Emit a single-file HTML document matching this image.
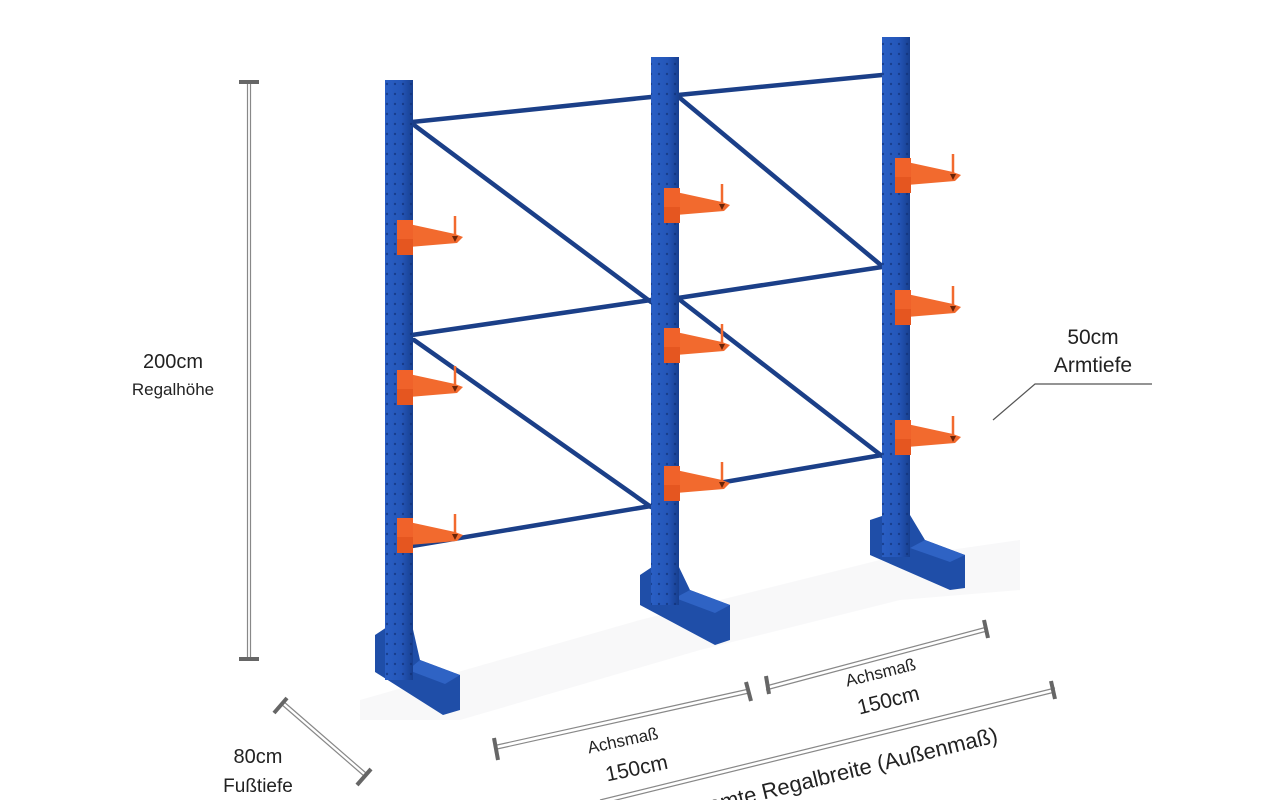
<!DOCTYPE html>
<html><head><meta charset="utf-8"><style>
html,body{margin:0;padding:0;background:#fff;}
svg{display:block}
text{font-family:"Liberation Sans",sans-serif;fill:#222;}
</style></head><body>
<svg width="1286" height="800" viewBox="0 0 1286 800" xmlns="http://www.w3.org/2000/svg">
<defs>
<linearGradient id="col" x1="0" x2="1">
<stop offset="0" stop-color="#2a5fc4"/><stop offset="0.6" stop-color="#2456b8"/><stop offset="1" stop-color="#173f8f"/>
</linearGradient>
<pattern id="holes" width="8" height="10" patternUnits="userSpaceOnUse">
<circle cx="3" cy="4" r="1.2" fill="#0f2c6e"/>
</pattern>
<g id="arm">
<polygon points="4,4 50,14 58,17 52,23 4,27" fill="#f26a2e"/>
<polygon points="47,16 53,16 50,22" fill="#6a2408"/>
<line x1="50" y1="-4" x2="50" y2="16" stroke="#f26a2e" stroke-width="2.5"/>
<rect x="-8" y="0" width="16" height="35" fill="#f0622a"/>
<rect x="-8" y="19" width="16" height="16" fill="#e55620"/>
</g>
</defs>

<polygon points="360,700 640,620 880,560 1020,540 1020,590 900,600 700,650 460,720 360,720" fill="#f5f5f7" opacity="0.7"/>

<g stroke="#1b3f88" stroke-width="4.5" stroke-linecap="round">
<line x1="412" y1="122" x2="651" y2="97"/>
<line x1="678" y1="95" x2="882" y2="75"/>
<line x1="412" y1="335" x2="651" y2="300"/>
<line x1="678" y1="298" x2="882" y2="267"/>
<line x1="412" y1="546" x2="651" y2="506"/>
<line x1="678" y1="490" x2="882" y2="455"/>
<line x1="414" y1="125" x2="651" y2="302"/>
<line x1="414" y1="340" x2="651" y2="507"/>
<line x1="680" y1="98" x2="882" y2="266"/>
<line x1="680" y1="300" x2="882" y2="456"/>
</g>

<polygon points="870,520 885,515 910,515 925,540 965,555 965,588 950,590 870,555" fill="#1f4ea8"/>
<polygon points="925,540 965,555 950,562 910,548" fill="#2f63c4"/>
<rect x="882" y="37" width="28" height="520" fill="url(#col)"/>
<rect x="882" y="37" width="28" height="520" fill="url(#holes)" opacity="0.6"/>
<polygon points="640,575 655,565 678,565 690,590 730,605 730,640 715,645 640,605" fill="#1f4ea8"/>
<polygon points="690,590 730,605 715,613 675,598" fill="#2f63c4"/>
<rect x="651" y="57" width="28" height="548" fill="url(#col)"/>
<rect x="651" y="57" width="28" height="548" fill="url(#holes)" opacity="0.6"/>
<polygon points="375,635 390,625 412,625 420,660 460,675 460,710 443,715 375,672" fill="#1f4ea8"/>
<polygon points="420,660 460,675 445,684 408,670" fill="#2f63c4"/>
<rect x="385" y="80" width="28" height="600" fill="url(#col)"/>
<rect x="385" y="80" width="28" height="600" fill="url(#holes)" opacity="0.6"/>

<use href="#arm" x="405" y="220"/>
<use href="#arm" x="405" y="370"/>
<use href="#arm" x="405" y="518"/>
<use href="#arm" x="672" y="188"/>
<use href="#arm" x="672" y="328"/>
<use href="#arm" x="672" y="466"/>
<use href="#arm" x="903" y="158"/>
<use href="#arm" x="903" y="290"/>
<use href="#arm" x="903" y="420"/>

<g stroke="#888" fill="none">
<line x1="247.5" y1="82" x2="247.5" y2="660" stroke-width="1.2"/>
<line x1="250.5" y1="82" x2="250.5" y2="660" stroke-width="1.2"/>
<line x1="239" y1="82" x2="259" y2="82" stroke="#666" stroke-width="4"/>
<line x1="239" y1="659" x2="259" y2="659" stroke="#666" stroke-width="4"/>
</g>
<text x="173" y="368" font-size="20" text-anchor="middle">200cm</text>
<text x="173" y="395" font-size="17" text-anchor="middle">Regalhöhe</text>

<g stroke="#888" fill="none">
<line x1="281" y1="704" x2="364" y2="776" stroke-width="1.2"/>
<line x1="283" y1="701" x2="366" y2="773" stroke-width="1.2"/>
<line x1="274" y1="713" x2="287" y2="698" stroke="#666" stroke-width="4"/>
<line x1="357" y1="785" x2="371" y2="769" stroke="#666" stroke-width="4"/>
</g>
<text x="258" y="763" font-size="20" text-anchor="middle">80cm</text>
<text x="258" y="792" font-size="19" text-anchor="middle">Fußtiefe</text>

<g stroke="#888" fill="none" stroke-width="1.2">
<line x1="497" y1="745" x2="749" y2="689"/>
<line x1="497" y1="749" x2="749" y2="693"/>
<line x1="766" y1="686" x2="987" y2="627"/>
<line x1="766" y1="690" x2="987" y2="631"/>
<line x1="600" y1="800" x2="1055" y2="688"/>
<line x1="600" y1="804" x2="1055" y2="692"/>
</g>
<g stroke="#666" stroke-width="4">
<line x1="494" y1="738" x2="498" y2="760"/>
<line x1="746" y1="682" x2="751" y2="701"/>
<line x1="766" y1="676" x2="769" y2="694"/>
<line x1="984" y1="620" x2="988" y2="638"/>
<line x1="1051" y1="681" x2="1055" y2="699"/>
</g>
<text transform="translate(624,746) rotate(-12)" font-size="17" text-anchor="middle">Achsmaß</text>
<text transform="translate(638,775) rotate(-12)" font-size="21" text-anchor="middle">150cm</text>
<text transform="translate(882,678) rotate(-14)" font-size="17" text-anchor="middle">Achsmaß</text>
<text transform="translate(890,707) rotate(-14)" font-size="21" text-anchor="middle">150cm</text>
<text transform="translate(835,782) rotate(-13.8)" font-size="22" text-anchor="middle">Gesamte Regalbreite  (Außenmaß)</text>

<text x="1093" y="344" font-size="21" text-anchor="middle">50cm</text>
<text x="1093" y="372" font-size="21" text-anchor="middle">Armtiefe</text>
<polyline points="993,420 1035,384 1152,384" fill="none" stroke="#555" stroke-width="1.2"/>
</svg>
</body></html>
